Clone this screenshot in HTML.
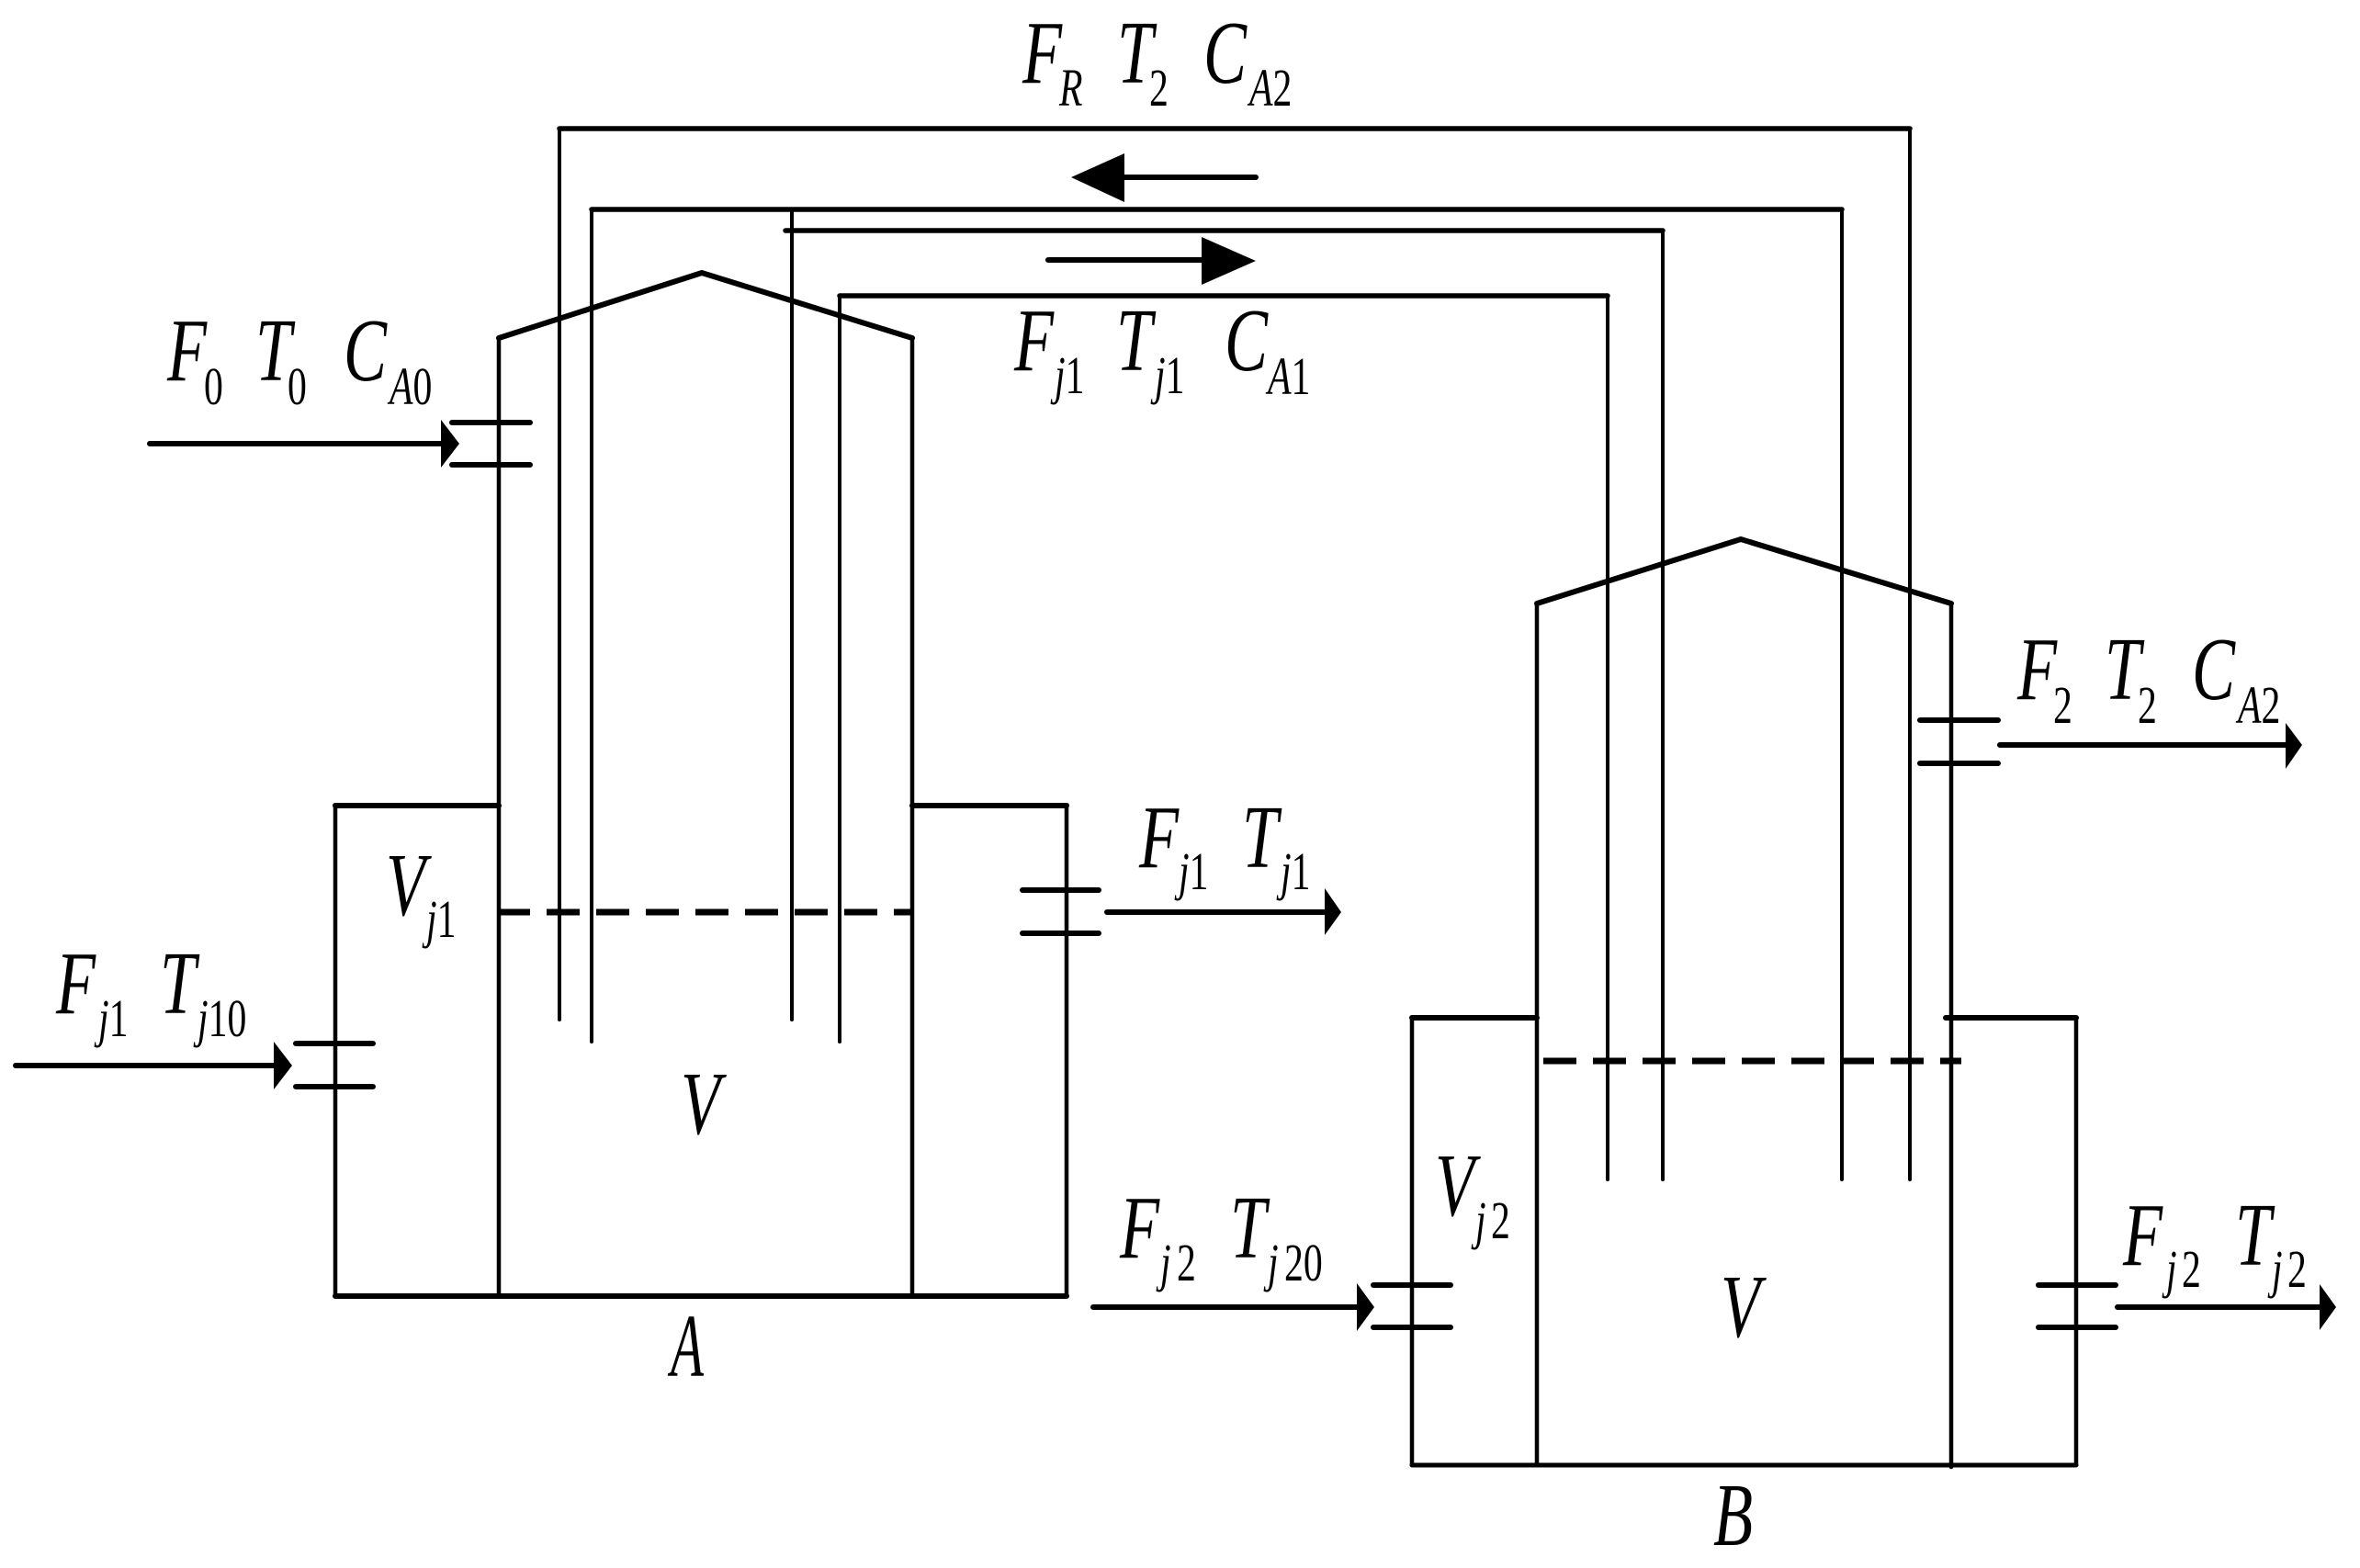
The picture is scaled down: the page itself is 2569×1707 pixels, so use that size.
<!DOCTYPE html>
<html><head><meta charset="utf-8">
<style>
html,body{margin:0;padding:0;background:#fff}
svg{display:block}
text{font-family:"Liberation Serif",serif;fill:#000}
.b{font-size:98px;font-style:italic}
.s{font-size:58px;font-style:italic}
.r{font-style:normal}
</style></head><body>
<svg width="2569" height="1707" viewBox="0 0 2569 1707" xmlns="http://www.w3.org/2000/svg">
<rect width="2569" height="1707" fill="#fff"/>
<g fill="none" stroke="#000" stroke-linejoin="miter" stroke-linecap="round">
<!-- vessel A -->
<path d="M543 1411V368L764 297L993 368V1411" stroke-width="4.5"/>
<path d="M365 1411V877H543M993 877H1161V1411" stroke-width="4.5"/>
<path d="M365 877H543M993 877H1161M365 1411H1161" stroke-width="6"/>
<!-- vessel B -->
<path d="M1673 1595V657L1895 587L2124 657V1597" stroke-width="4.5"/>
<path d="M1537 1595V1108M2260 1108V1595" stroke-width="4.5"/>
<path d="M1537 1108H1673M2118 1108H2260" stroke-width="6"/>
<path d="M1537 1595H2260" stroke-width="5"/>
<!-- roof thicker -->
<path d="M543 368L764 297L993 368M1673 657L1895 587L2124 657" stroke-width="6"/>
<!-- recycle pipes -->
<path d="M609 1110V140M2079 140V1284M644 1134V228M2005 228V1284M862 1110V230M1810 251V1284M914 1134V322M1750 322V1284" stroke-width="4"/>
<path d="M609 140H2079M644 228H2005M855 251H1810M914 322H1750" stroke-width="5.5"/>
<!-- flow arrows -->
<path d="M1367 193H1220M1141 283H1310M163 483H484M17 1160H300M1205 993H1445M1190 1423H1480M2177 811H2490M2305 1423H2527" stroke-width="6"/>
<!-- nozzles -->
<path d="M492 460H577M492 506H577M322 1136H406M322 1183H406M1113 969H1196M1113 1016H1196M1495 1399H1579M1495 1445H1579M2219 1399H2303M2219 1445H2303M2090 784H2175M2090 831H2175" stroke-width="6"/>
<!-- levels -->
<path d="M541 993H993" stroke-width="7" stroke-dasharray="36 18" stroke-linecap="butt"/>
<path d="M1680 1155H2135" stroke-width="7" stroke-dasharray="36 18" stroke-linecap="butt"/>
</g>
<g fill="#000" stroke="none">
<polygon points="1166,193 1224,167 1224,220"/>
<polygon points="1367,284 1308,258 1308,310"/>
<polygon points="500,483 480,457 480,509"/>
<polygon points="318,1160 298,1134 298,1186"/>
<polygon points="1460,993 1442,967 1442,1018"/>
<polygon points="1496,1423 1477,1397 1477,1449"/>
<polygon points="2506,811 2488,787 2488,837"/>
<polygon points="2543,1423 2525,1398 2525,1448"/>
</g>
<!-- top label -->
<text class="b" transform="translate(1113 90) scale(.72 1)">F</text>
<text class="s" transform="translate(1153 115) scale(.72 1)">R</text>
<text class="b" transform="translate(1216 90) scale(.72 1)">T</text>
<text class="s r" transform="translate(1251 115) scale(.72 1)">2</text>
<text class="b" transform="translate(1310 90) scale(.72 1)">C</text>
<text class="s" transform="translate(1360 115) scale(.72 1)">A<tspan class="r">2</tspan></text>
<!-- F0 -->
<text class="b" transform="translate(182 414) scale(.72 1)">F</text>
<text class="s r" transform="translate(222 440) scale(.72 1)">0</text>
<text class="b" transform="translate(278 414) scale(.72 1)">T</text>
<text class="s r" transform="translate(313 440) scale(.72 1)">0</text>
<text class="b" transform="translate(374 414) scale(.72 1)">C</text>
<text class="s" transform="translate(424 440) scale(.72 1)">A<tspan class="r">0</tspan></text>
<!-- Fj1 Tj1 CA1 -->
<text class="b" transform="translate(1104 403) scale(.72 1)">F</text>
<text class="s" transform="translate(1148 428) scale(.72 1)">j<tspan class="r">1</tspan></text>
<text class="b" transform="translate(1215 403) scale(.72 1)">T</text>
<text class="s" transform="translate(1257 428) scale(.72 1)">j<tspan class="r">1</tspan></text>
<text class="b" transform="translate(1333 403) scale(.72 1)">C</text>
<text class="s" transform="translate(1380 429) scale(.72 1)">A<tspan class="r">1</tspan></text>
<!-- F2 T2 CA2 -->
<text class="b" transform="translate(2196 761) scale(.72 1)">F</text>
<text class="s r" transform="translate(2235 787) scale(.72 1)">2</text>
<text class="b" transform="translate(2291 761) scale(.72 1)">T</text>
<text class="s r" transform="translate(2327 787) scale(.72 1)">2</text>
<text class="b" transform="translate(2386 761) scale(.72 1)">C</text>
<text class="s" transform="translate(2436 787) scale(.72 1)">A<tspan class="r">2</tspan></text>
<!-- Fj1 Tj1 right -->
<text class="b" transform="translate(1240 944) scale(.72 1)">F</text>
<text class="s" transform="translate(1283 968) scale(.72 1)">j<tspan class="r">1</tspan></text>
<text class="b" transform="translate(1352 944) scale(.72 1)">T</text>
<text class="s" transform="translate(1394 968) scale(.72 1)">j<tspan class="r">1</tspan></text>
<!-- Vj1 -->
<text class="b" transform="translate(420 996) scale(.72 1)">V</text>
<text class="s" transform="translate(464 1020) scale(.72 1)">j<tspan class="r">1</tspan></text>
<!-- Fj1 Tj10 left -->
<text class="b" transform="translate(61 1103) scale(.72 1)">F</text>
<text class="s" transform="translate(107 1128) scale(.72 1)">j<tspan class="r">1</tspan></text>
<text class="b" transform="translate(174 1103) scale(.72 1)">T</text>
<text class="s" transform="translate(215 1128) scale(.72 1)">j<tspan class="r">10</tspan></text>
<!-- V, A -->
<text class="b" transform="translate(741 1234) scale(.72 1)">V</text>
<text class="b" transform="translate(730 1498) scale(.6 1)">A</text>
<!-- Fj2 Tj20 -->
<text class="b" transform="translate(1219 1369) scale(.72 1)">F</text>
<text class="s" transform="translate(1263 1394) scale(.72 1)">j</text>
<text class="s r" transform="translate(1281 1394) scale(.72 1)">2</text>
<text class="b" transform="translate(1339 1369) scale(.72 1)">T</text>
<text class="s" transform="translate(1380 1394) scale(.72 1)">j</text>
<text class="s r" transform="translate(1398 1394) scale(.72 1)">20</text>
<!-- Vj2 -->
<text class="b" transform="translate(1562 1323) scale(.72 1)">V</text>
<text class="s" transform="translate(1606 1348) scale(.72 1)">j</text>
<text class="s r" transform="translate(1623 1348) scale(.72 1)">2</text>
<!-- Fj2 Tj2 right -->
<text class="b" transform="translate(2311 1377) scale(.72 1)">F</text>
<text class="s" transform="translate(2358 1401) scale(.72 1)">j</text>
<text class="s r" transform="translate(2375 1401) scale(.72 1)">2</text>
<text class="b" transform="translate(2433 1377) scale(.72 1)">T</text>
<text class="s" transform="translate(2473 1401) scale(.72 1)">j</text>
<text class="s r" transform="translate(2490 1401) scale(.72 1)">2</text>
<!-- V, B -->
<text class="b" transform="translate(1873 1455) scale(.72 1)">V</text>
<text class="b" transform="translate(1865 1682) scale(.72 1)">B</text>
</svg>
</body></html>
